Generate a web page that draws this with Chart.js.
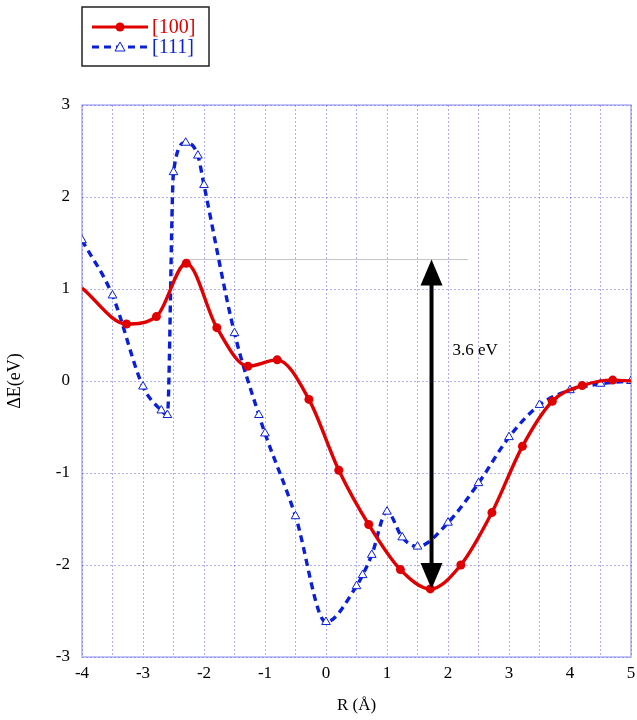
<!DOCTYPE html>
<html>
<head>
<meta charset="utf-8">
<script src="https://cdn.jsdelivr.net/npm/chart.js@4.4.0/dist/chart.umd.min.js"></script>
<style>
  html, body { margin: 0; padding: 0; background: #fff; }
  #wrap { width: 637px; height: 720px; position: relative; }
</style>
</head>
<body>
<div id="wrap"><canvas id="c" width="637" height="720"></canvas></div>
<script>
// data
var r100X = [-4, -3.27, -2.78, -2.29, -1.79, -1.28, -0.8, -0.28, 0.21, 0.7, 1.22, 1.71, 2.21, 2.72, 3.22, 3.71, 4.2, 4.7, 5];
var r100Y = [1.01, 0.62, 0.7, 1.28, 0.58, 0.16, 0.23, -0.2, -0.97, -1.56, -2.05, -2.26, -2.0, -1.43, -0.71, -0.22, -0.05, 0.01, 0.0];
var r111X = [-4, -3.5, -3, -2.7, -2.6, -2.5, -2.3, -2.1, -2.0, -1.5, -1.1, -1.0, -0.5, 0, 0.5, 0.6, 0.75, 1.0, 1.25, 1.5, 2.0, 2.5, 3.0, 3.5, 4.0, 4.5, 5.0];
var r111Y = [1.53, 0.93, -0.06, -0.32, -0.37, 2.27, 2.59, 2.45, 2.13, 0.52, -0.37, -0.57, -1.47, -2.62, -2.23, -2.11, -1.89, -1.42, -1.7, -1.8, -1.54, -1.11, -0.61, -0.26, -0.1, -0.03, 0.0];
var seriesNames = ['[100]', '[111]'];
var xTicks = [-4, -3, -2, -1, 0, 1, 2, 3, 4, 5];
var yTicks = [-3, -2, -1, 0, 1, 2, 3];

// barrier annotation
var arrowX = 1.73, arrowFrom = -2.26, arrowTo = 1.32;
var refLineX = [-2.29, 2.33];
var barrierText = '3.6 eV';

var serif = '"Liberation Serif", "DejaVu Serif", serif';
var gridColor = 'rgba(95,95,240,0.5)';

function pts(xs, ys) {
  return xs.map(function (x, i) { return { x: x, y: ys[i] }; });
}

// frame, annotation and legend
var extras = {
  id: 'extras',
  beforeDatasetsDraw: function (chart) {
    var ctx = chart.ctx, a = chart.chartArea, sx = chart.scales.x, sy = chart.scales.y;
    ctx.save();
    ctx.strokeStyle = gridColor;
    ctx.lineWidth = 1.5;
    ctx.strokeRect(a.left, a.top, a.right - a.left, a.bottom - a.top);
    // thin grey reference line at the barrier top
    ctx.strokeStyle = '#c4c4c4';
    ctx.lineWidth = 1;
    ctx.beginPath();
    ctx.moveTo(sx.getPixelForValue(refLineX[0]), sy.getPixelForValue(arrowTo));
    ctx.lineTo(sx.getPixelForValue(refLineX[1]), sy.getPixelForValue(arrowTo));
    ctx.stroke();
    ctx.restore();
  },
  afterDatasetsDraw: function (chart) {
    var ctx = chart.ctx, sx = chart.scales.x, sy = chart.scales.y;
    var x = sx.getPixelForValue(arrowX);
    var y1 = sy.getPixelForValue(arrowFrom), y2 = sy.getPixelForValue(arrowTo);
    var head = 26, hw = 11;
    ctx.save();
    ctx.strokeStyle = '#000';
    ctx.fillStyle = '#000';
    ctx.lineWidth = 4;
    ctx.beginPath();
    ctx.moveTo(x, y1 - head + 2);
    ctx.lineTo(x, y2 + head - 2);
    ctx.stroke();
    ctx.beginPath();
    ctx.moveTo(x, y2); ctx.lineTo(x - hw, y2 + head); ctx.lineTo(x + hw, y2 + head); ctx.closePath();
    ctx.fill();
    ctx.beginPath();
    ctx.moveTo(x, y1); ctx.lineTo(x - hw, y1 - head); ctx.lineTo(x + hw, y1 - head); ctx.closePath();
    ctx.fill();
    ctx.font = '17px ' + serif;
    ctx.textBaseline = 'middle';
    ctx.fillText(barrierText, x + 21, sy.getPixelForValue(0.33));

    // legend box
    ctx.lineWidth = 1.5;
    ctx.strokeStyle = '#222';
    ctx.strokeRect(82, 7, 127, 59);
    chart.data.datasets.forEach(function (ds, i) {
      var yy = 27 + i * 20;
      ctx.strokeStyle = ds.borderColor;
      ctx.lineWidth = 3;
      ctx.setLineDash(ds.borderDash || []);
      ctx.beginPath();
      ctx.moveTo(92, yy); ctx.lineTo(148, yy);
      ctx.stroke();
      ctx.setLineDash([]);
      if (ds.pointStyle === 'triangle') {
        ctx.fillStyle = '#fff';
        ctx.lineWidth = 1;
        ctx.beginPath();
        ctx.moveTo(120, yy - 5); ctx.lineTo(115, yy + 4); ctx.lineTo(125, yy + 4); ctx.closePath();
        ctx.fill(); ctx.stroke();
      } else {
        ctx.fillStyle = ds.borderColor;
        ctx.beginPath();
        ctx.arc(120, yy, 4.5, 0, Math.PI * 2);
        ctx.fill();
      }
      ctx.fillStyle = ds.borderColor;
      ctx.font = '20px ' + serif;
      ctx.fillText(seriesNames[i], 152, yy + 1);
    });
    ctx.restore();
  }
};

new Chart(document.getElementById('c'), {
  type: 'line',
  data: {
    datasets: [{
      label: seriesNames[0],
      data: pts(r100X, r100Y),
      borderColor: '#e00000',
      backgroundColor: '#e00000',
      borderWidth: 3.4,
      pointStyle: 'circle',
      pointRadius: function (c) { return (c.dataIndex === 0 || c.dataIndex === r100X.length - 1) ? 0 : 4.5; },
      pointBorderWidth: 0,
      cubicInterpolationMode: 'monotone'
    }, {
      label: seriesNames[1],
      data: pts(r111X, r111Y),
      borderColor: '#0a1fd8',
      backgroundColor: '#ffffff',
      borderWidth: 3.4,
      borderDash: [7, 5],
      pointStyle: 'triangle',
      pointRadius: 5,
      pointBorderWidth: 1,
      cubicInterpolationMode: 'monotone'
    }]
  },
  options: {
    responsive: false,
    animation: false,
    layout: { padding: { top: 105, right: 5, left: 0, bottom: 0 } },
    plugins: { legend: { display: false }, tooltip: { enabled: false } },
    scales: {
      x: {
        type: 'linear', min: -4, max: 5,
        afterBuildTicks: function (s) {
          var t = [];
          for (var v = -4; v <= 5.001; v += 0.5) t.push({ value: Math.round(v * 10) / 10 });
          s.ticks = t;
        },
        afterFit: function (s) { s.height = 63; s.paddingLeft = 0; s.paddingRight = 0; },
        ticks: {
          autoSkip: false, maxRotation: 0, color: '#000', padding: 6,
          font: { family: serif, size: 17 },
          callback: function (v) { return xTicks.indexOf(v) >= 0 ? String(v) : ''; }
        },
        grid: { color: gridColor, drawTicks: false },
        border: { display: false, dash: [2, 2] },
        title: { display: true, text: 'R (Å)', color: '#000', font: { family: serif, size: 17 }, padding: { top: 8 } }
      },
      y: {
        min: -3, max: 3,
        afterBuildTicks: function (s) { s.ticks = yTicks.map(function (v) { return { value: v }; }); },
        afterFit: function (s) { s.width = 82; },
        ticks: { color: '#000', padding: 12, font: { family: serif, size: 17 } },
        grid: { color: gridColor, drawTicks: false },
        border: { display: false, dash: [2, 2] },
        title: { display: true, text: 'ΔE(eV)', color: '#000', font: { family: serif, size: 18 }, padding: { bottom: 6 } }
      }
    }
  },
  plugins: [extras]
});
</script>
</body>
</html>
